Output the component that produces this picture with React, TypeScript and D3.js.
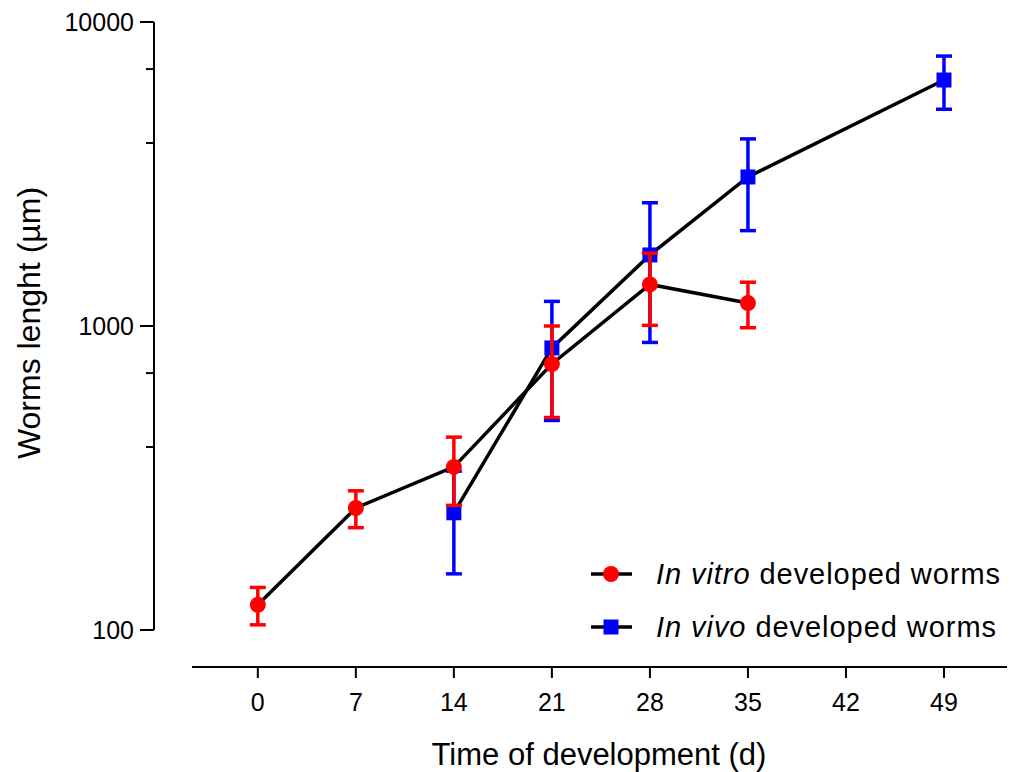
import * as d3 from 'd3';

// In vitro developed worms (red circles)
const vitroDays = [0, 7, 14, 21, 28, 35];
const vitroMean = [121, 252, 344, 750, 1370, 1190];
const vitroSD = [17, 35, 87, 250, 365, 203];

// In vivo developed worms (blue squares)
const vivoDays = [14, 21, 28, 35, 49];
const vivoMean = [243, 847, 1713, 3092, 6444];
const vivoSD = [90, 358, 830, 1033, 1280];

const xTicks = [0, 7, 14, 21, 28, 35, 42, 49];
const yMajor = [100, 1000, 10000];
const yMinor = [400, 700, 4000, 7000];

const FONT = '"Liberation Sans", Arial, sans-serif';

const App = () => {
  const x = d3.scaleLinear().domain([-4.7, 53.5]).range([192, 1007]);
  const y = d3.scaleLog().domain([100, 10000]).range([630, 22]);

  const line = d3.line<[number, number]>()
    .x(d => x(d[0]))
    .y(d => y(d[1]));

  const vitro = vitroDays.map((d, i) => ({ d, m: vitroMean[i], s: vitroSD[i] }));
  const vivo = vivoDays.map((d, i) => ({ d, m: vivoMean[i], s: vivoSD[i] }));

  const errBar = (p, color, key) => (
    <g key={key} stroke={color} strokeWidth={3.5}>
      <line x1={x(p.d)} x2={x(p.d)} y1={y(p.m + p.s)} y2={y(p.m - p.s)} />
      <line x1={x(p.d) - 8} x2={x(p.d) + 8} y1={y(p.m + p.s)} y2={y(p.m + p.s)} />
      <line x1={x(p.d) - 8} x2={x(p.d) + 8} y1={y(p.m - p.s)} y2={y(p.m - p.s)} />
    </g>
  );

  return (
    <svg width={1016} height={772} style={{ position: 'absolute', left: 0, top: 0, background: '#fff' }}
      fontFamily={FONT}>
      {/* y axis */}
      <g stroke="#000" strokeWidth={2}>
        <line x1={154} x2={154} y1={y(10000)} y2={y(100)} />
        {yMajor.map(v => <line key={v} x1={140} x2={154} y1={y(v)} y2={y(v)} />)}
        {yMinor.map(v => <line key={v} x1={146} x2={154} y1={y(v)} y2={y(v)} />)}
      </g>
      {yMajor.map(v => (
        <text key={v} x={134} y={y(v) + 9} fontSize={25} textAnchor="end">{v}</text>
      ))}
      <text transform="translate(40,323) rotate(-90)" fontSize={32} textAnchor="middle">
        Worms lenght (µm)
      </text>

      {/* x axis */}
      <g stroke="#000" strokeWidth={2}>
        <line x1={x(-4.7)} x2={x(53.5)} y1={667} y2={667} />
        {xTicks.map(t => <line key={t} x1={x(t)} x2={x(t)} y1={667} y2={678} />)}
      </g>
      {xTicks.map(t => (
        <text key={t} x={x(t)} y={711} fontSize={25} textAnchor="middle">{t}</text>
      ))}
      <text x={599} y={765} fontSize={31} textAnchor="middle">Time of development (d)</text>

      {/* in vivo series */}
      {vivo.map((p, i) => errBar(p, '#0000ff', 'vb' + i))}
      <path d={line(vivo.map(p => [p.d, p.m]))} fill="none" stroke="#000" strokeWidth={3.5} />
      {vivo.map((p, i) => (
        <rect key={i} x={x(p.d) - 7.5} y={y(p.m) - 7.5} width={15} height={15} fill="#0000ff" />
      ))}

      {/* in vitro series */}
      {vitro.map((p, i) => errBar(p, '#ff0000', 'rb' + i))}
      <path d={line(vitro.map(p => [p.d, p.m]))} fill="none" stroke="#000" strokeWidth={3.5} />
      {vitro.map((p, i) => (
        <circle key={i} cx={x(p.d)} cy={y(p.m)} r={8} fill="#ff0000" />
      ))}

      {/* legend */}
      <g>
        <line x1={591} x2={632} y1={574} y2={574} stroke="#000" strokeWidth={3.5} />
        <circle cx={611} cy={574} r={8} fill="#ff0000" />
        <text x={656} y={584} fontSize={29} textLength={344} lengthAdjust="spacing">
          <tspan fontStyle="italic">In vitro</tspan> developed worms
        </text>
        <line x1={591} x2={632} y1={627} y2={627} stroke="#000" strokeWidth={3.5} />
        <rect x={611 - 7.5} y={627 - 7.5} width={15} height={15} fill="#0000ff" />
        <text x={656} y={637} fontSize={29} textLength={340} lengthAdjust="spacing">
          <tspan fontStyle="italic">In vivo</tspan> developed worms
        </text>
      </g>
    </svg>
  );
};

export default App;
